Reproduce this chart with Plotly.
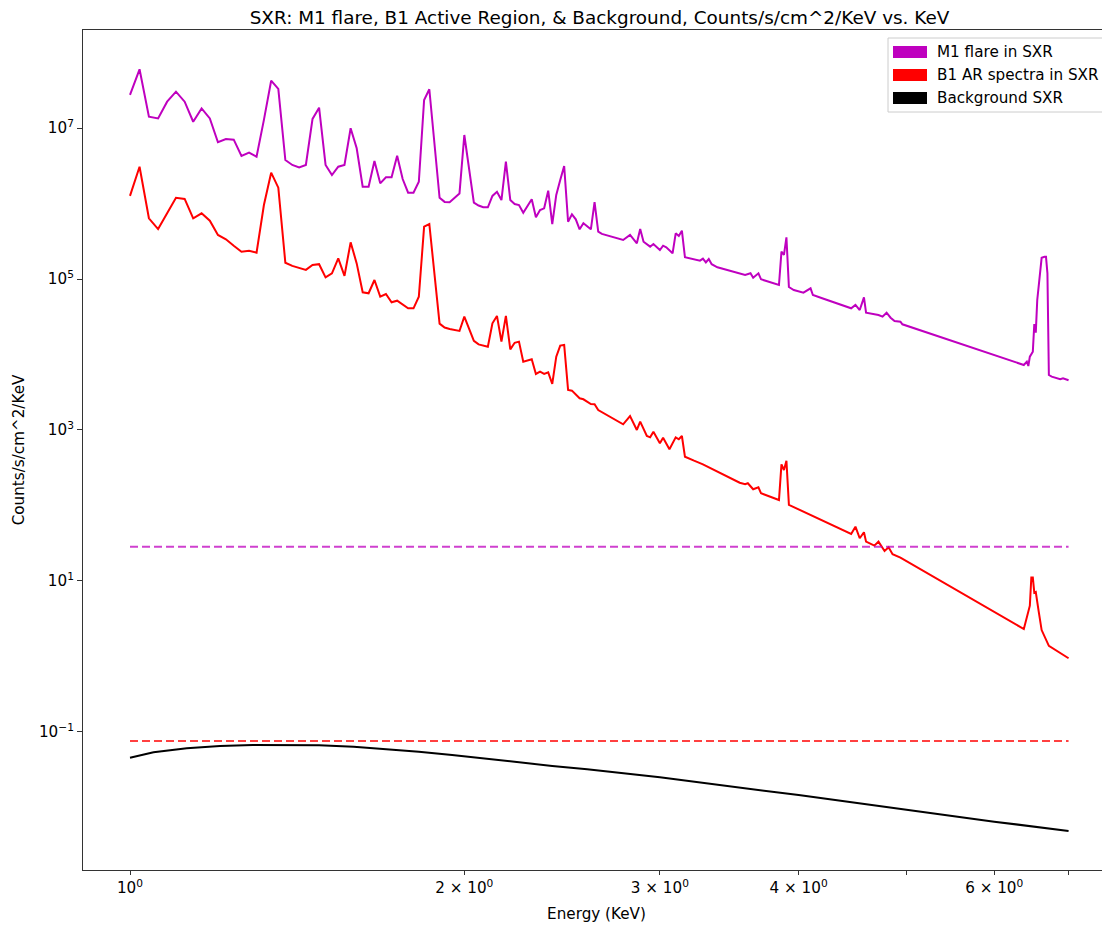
import plotly.graph_objects as go

# ---------------- data ----------------
m_energy = [1.00, 1.02, 1.04, 1.06, 1.08, 1.10, 1.12, 1.14, 1.16, 1.18, 1.20, 1.22, 1.24, 1.26, 1.28,
            1.30, 1.32, 1.34, 1.36, 1.38, 1.40, 1.42, 1.44, 1.46, 1.48, 1.50, 1.52, 1.54, 1.56, 1.58,
            1.60, 1.62, 1.64, 1.66, 1.68, 1.70, 1.72, 1.74, 1.76, 1.78, 1.80, 1.82, 1.84, 1.86,
            1.90, 1.92, 1.94, 1.98, 2.00, 2.02, 2.04, 2.06, 2.08, 2.10,
            2.12, 2.14, 2.16, 2.18, 2.20, 2.22, 2.24, 2.26,
            2.30, 2.32, 2.34, 2.36, 2.38, 2.40, 2.42, 2.44, 2.46, 2.48, 2.50, 2.52, 2.54, 2.56, 2.58,
            2.60, 2.62, 2.64, 2.66,
            2.78, 2.82, 2.86, 2.88, 2.90, 2.94, 2.96,
            3.00, 3.02, 3.04, 3.08, 3.10, 3.12, 3.14, 3.16,
            3.26, 3.28, 3.30, 3.32, 3.34, 3.38,
            3.58, 3.62, 3.64, 3.68, 3.70,
            3.84, 3.86, 3.88, 3.90, 3.92, 3.96,
            4.04, 4.10, 4.12, 4.20,
            4.46, 4.50, 4.54, 4.58, 4.60,
            4.72, 4.76, 4.80, 4.84, 4.88, 4.94, 4.96,
            6.38, 6.42, 6.44, 6.46, 6.50, 6.52, 6.54, 6.56, 6.60, 6.62, 6.66, 6.68, 6.70, 6.72, 6.76,
            6.88, 6.92, 6.98, 7.00]
m_counts = [2.74e7, 5.99e7, 1.41e7, 1.34e7, 2.23e7, 3.03e7, 2.23e7, 1.21e7, 1.82e7, 1.34e7, 6.47e6, 7.15e6, 7.00e6, 4.26e6, 4.71e6,
            4.17e6, 1.28e7, 4.23e7, 3.29e7, 3.77e6, 3.24e6, 3.01e6, 3.24e6, 1.32e7, 1.86e7, 3.24e6, 2.38e6, 3.07e6, 3.24e6, 9.91e6,
            5.38e6, 1.67e6, 1.67e6, 3.66e6, 1.85e6, 2.22e6, 2.22e6, 4.30e6, 2.11e6, 1.39e6, 1.39e6, 1.94e6, 2.35e7, 3.26e7,
            1.19e6, 1.05e6, 1.04e6, 1.36e6, 8.08e6, 3.07e6, 1.03e6, 9.41e5, 8.91e5, 8.91e5,
            1.26e6, 1.43e6, 1.11e6, 3.58e6, 1.11e6, 9.85e5, 9.55e5, 7.55e5,
            1.14e6, 6.56e5, 8.20e5, 8.63e5, 1.48e6, 5.35e5, 1.30e6, 2.05e6, 3.14e6, 5.74e5, 7.19e5, 6.18e5, 4.55e5, 5.47e5, 4.96e5,
            4.55e5, 1.04e6, 4.23e5, 3.95e5,
            3.29e5, 3.83e5, 2.97e5, 4.59e5, 3.12e5, 2.68e5, 2.91e5,
            2.42e5, 2.76e5, 2.63e5, 2.19e5, 4.03e5, 3.71e5, 4.36e5, 1.94e5,
            1.75e5, 1.86e5, 1.66e5, 1.84e5, 1.57e5, 1.43e5,
            1.13e5, 1.19e5, 1.04e5, 1.19e5, 9.91e4,
            8.33e4, 2.30e5, 2.08e5, 3.57e5, 7.83e4, 7.15e4,
            6.59e4, 7.53e4, 6.14e4, 5.55e4,
            4.09e4, 4.53e4, 3.88e4, 5.72e4, 3.58e4,
            3.33e4, 3.17e4, 3.58e4, 3.07e4, 2.78e4, 2.72e4, 2.51e4,
            7.26e3, 8.03e3, 7.04e3, 9.35e3, 1.09e4, 2.54e4, 1.95e4, 5.27e4, 1.19e5, 1.91e5, 1.97e5, 1.97e5, 1.19e5, 5.35e3, 5.08e3,
            4.70e3, 4.84e3, 4.59e3, 4.55e3]

r_energy = [1.00, 1.02, 1.04, 1.06, 1.08, 1.10, 1.12, 1.14, 1.16, 1.18, 1.20, 1.22, 1.24, 1.26, 1.28,
            1.30, 1.32, 1.34, 1.36, 1.38, 1.40, 1.42, 1.44, 1.46, 1.48, 1.50, 1.52, 1.54, 1.56, 1.58,
            1.60, 1.62, 1.64, 1.66, 1.68, 1.70, 1.72, 1.74, 1.76, 1.78, 1.80, 1.82, 1.84, 1.86,
            1.90, 1.92, 1.94, 1.98, 2.00,
            2.04, 2.06, 2.10, 2.12, 2.14, 2.16, 2.18, 2.20, 2.22, 2.24, 2.26,
            2.30, 2.32, 2.34, 2.36, 2.38, 2.40, 2.42, 2.44, 2.46, 2.48, 2.50,
            2.54, 2.56, 2.60, 2.62, 2.64,
            2.78, 2.82, 2.86, 2.88, 2.92, 2.94, 2.96,
            3.00, 3.02, 3.06, 3.10, 3.12, 3.14, 3.16, 3.22, 3.28,
            3.54, 3.58, 3.60, 3.64, 3.68, 3.70,
            3.84, 3.86, 3.88, 3.90, 3.92,
            4.46, 4.50, 4.54, 4.58, 4.60, 4.68, 4.72, 4.78, 4.82, 4.86, 4.94,
            6.38, 6.42, 6.46, 6.48, 6.50, 6.52, 6.54, 6.58, 6.62, 6.72, 7.00]
r_counts = [1.26e6, 3.07e6, 6.37e5, 4.59e5, 7.41e5, 1.19e6, 1.15e6, 6.37e5, 7.41e5, 5.92e5, 3.83e5, 3.36e5, 2.76e5, 2.30e5, 2.37e5,
            2.23e5, 9.55e5, 2.56e6, 1.62e6, 1.64e5, 1.49e5, 1.39e5, 1.32e5, 1.53e5, 1.57e5, 1.05e5, 1.19e5, 1.88e5, 1.10e5, 3.06e5,
            1.61e5, 6.67e4, 6.47e4, 9.70e4, 5.83e4, 6.33e4, 4.91e4, 5.16e4, 4.53e4, 4.09e4, 4.09e4, 5.83e4, 4.93e5, 5.35e5,
            2.56e4, 2.28e4, 2.18e4, 2.05e4, 3.17e4,
            1.52e4, 1.36e4, 1.27e4, 2.59e4, 3.24e4, 1.48e4, 3.24e4, 1.17e4, 1.43e4, 1.48e4, 8.03e3,
            8.63e3, 5.52e3, 5.92e3, 5.52e3, 5.81e3, 4.07e3, 9.35e3, 1.31e4, 1.34e4, 3.39e3, 3.32e3,
            2.63e3, 2.55e3, 2.21e3, 2.20e3, 1.84e3,
            1.19e3, 1.53e3, 1.00e3, 1.29e3, 833, 800, 949,
            667, 791, 555, 800, 753, 833, 443, 392, 351,
            200, 191, 197, 164, 174, 145,
            118, 351, 295, 392, 102,
            42.0, 52.4, 36.8, 44.2, 33.2, 29.4, 33.2, 25.0, 27.9, 22.6, 20.4,
            2.31, 3.47, 4.71, 11.1, 11.1, 7.00, 7.15, 3.92, 2.24, 1.38, 0.947]

bg_energy = [1.00, 1.05, 1.125, 1.205, 1.29, 1.38, 1.48, 1.59, 1.70, 1.82, 1.95, 2.10, 2.25, 2.40,
             2.58, 2.76, 3.00, 4.00, 5.00, 6.00, 7.00]
bg_counts = [0.0457, 0.0538, 0.0608, 0.0653, 0.0673, 0.0673, 0.0667, 0.0638, 0.0596, 0.0548, 0.0496,
             0.0439, 0.0397, 0.0355, 0.0321, 0.0289, 0.0251, 0.0146, 0.00927, 0.00649, 0.00489]

thr_energy = [1.0, 7.0]
m_threshold = [28.4, 28.4]
r_threshold = [0.0758, 0.0758]

series_names = ["M1 flare in SXR", "B1 AR spectra in SXR", "Background SXR"]
series_colors = ["#bf00bf", "#ff0000", "#000000"]

x_tickvals = [1, 2, 3, 4, 6]
x_ticktext = ["10<sup>0</sup>", "2 × 10<sup>0</sup>", "3 × 10<sup>0</sup>", "4 × 10<sup>0</sup>",
              "6 × 10<sup>0</sup>"]
x_minor_tickvals = [5, 7]
y_tickvals = [1e-1, 1e1, 1e3, 1e5, 1e7]
y_ticktext = ["10<sup>−1</sup>", "10<sup>1</sup>", "10<sup>3</sup>", "10<sup>5</sup>", "10<sup>7</sup>"]

assert len(m_energy) == len(m_counts)
assert len(r_energy) == len(r_counts)
assert len(bg_energy) == len(bg_counts)

# ---------------- figure ----------------
# the page body adds an 8px margin, so the figure is drawn 8px smaller and
# all page-pixel positions are shifted by OFF
OFF = 8
W, H = 1110 - OFF, 932 - OFF
ML, MR, MT, MB = 83 - OFF, 0, 30 - OFF, 62
FONT = "DejaVu Sans, Liberation Sans, sans-serif"
FS = 15.2

fig = go.Figure()
fig.add_trace(go.Scatter(x=m_energy, y=m_counts, mode="lines", name=series_names[0],
                         line=dict(color=series_colors[0], width=2), showlegend=False))
fig.add_trace(go.Scatter(x=r_energy, y=r_counts, mode="lines", name=series_names[1],
                         line=dict(color=series_colors[1], width=2), showlegend=False))
fig.add_trace(go.Scatter(x=thr_energy, y=m_threshold, mode="lines", name="M1 threshold",
                         line=dict(color="rgba(191,0,191,0.75)", width=2, dash="8px,4px"),
                         showlegend=False))
fig.add_trace(go.Scatter(x=thr_energy, y=r_threshold, mode="lines", name="B1 threshold",
                         line=dict(color="rgba(255,0,0,0.75)", width=2, dash="8px,4px"),
                         showlegend=False))
fig.add_trace(go.Scatter(x=bg_energy, y=bg_counts, mode="lines", name=series_names[2],
                         line=dict(color=series_colors[2], width=2), showlegend=False))

# manual legend (matplotlib-style patches); arguments are page pixels
pw, ph = W - ML - MR, H - MT - MB
def px_x(p):
    return (p - OFF - ML) / pw
def px_y(p):
    return (H - MB - (p - OFF)) / ph

shapes = [dict(type="rect", xref="paper", yref="paper",
               x0=px_x(888), x1=px_x(1107), y0=px_y(112), y1=px_y(38),
               line=dict(color="#cccccc", width=1), fillcolor="rgba(255,255,255,0.8)", layer="above")]
annotations = []
row_centers = [52, 75, 98]
for name, color, cy in zip(series_names, series_colors, row_centers):
    shapes.append(dict(type="rect", xref="paper", yref="paper",
                       x0=px_x(893), x1=px_x(927), y0=px_y(cy + 6), y1=px_y(cy - 6),
                       line=dict(width=0), fillcolor=color, layer="above"))
    annotations.append(dict(xref="paper", yref="paper", x=px_x(935), y=px_y(cy),
                            xanchor="left", yanchor="middle", showarrow=False, text=name,
                            font=dict(size=FS, color="#000000", family=FONT)))

fig.update_layout(
    width=W, height=H,
    margin=dict(l=ML, r=MR, t=MT, b=MB, pad=0, autoexpand=False),
    paper_bgcolor="white", plot_bgcolor="white",
    font=dict(family=FONT, size=FS, color="#000000"),
    title=dict(text="SXR: M1 flare, B1 Active Region, & Background, Counts/s/cm^2/KeV vs. KeV",
               x=px_x(599.5), xref="paper", xanchor="center",
               y=1 - 3.0 / H, yref="container", yanchor="top", pad=dict(t=0, b=0, l=0, r=0),
               font=dict(size=18.4, color="#000000", family=FONT)),
    shapes=shapes, annotations=annotations,
    showlegend=False,
)
fig.update_xaxes(type="log", range=[-0.04232, 0.88241], autorange=False, automargin=False,
                 tickmode="array", tickvals=x_tickvals, ticktext=x_ticktext, ticks="outside", ticklen=4,
                 tickcolor="#333333", showline=True, linecolor="#333333", linewidth=1, mirror=True,
                 minor=dict(tickmode="array", tickvals=x_minor_tickvals, ticks="outside", ticklen=4,
                            tickcolor="#333333", showgrid=False),
                 showgrid=False, zeroline=False,
                 title=dict(text="Energy (KeV)", standoff=12, font=dict(size=FS)),
                 tickfont=dict(size=FS))
fig.update_yaxes(type="log", range=[-2.828, 8.298], autorange=False, automargin=False,
                 tickmode="array", tickvals=y_tickvals, ticktext=y_ticktext, ticks="outside", ticklen=5,
                 tickcolor="#333333", showline=True, linecolor="#333333", linewidth=1, mirror=False,
                 showgrid=False, zeroline=False,
                 title=dict(text="Counts/s/cm^2/KeV", standoff=10, font=dict(size=FS)),
                 tickfont=dict(size=FS))

fig.write_html("out.html")
